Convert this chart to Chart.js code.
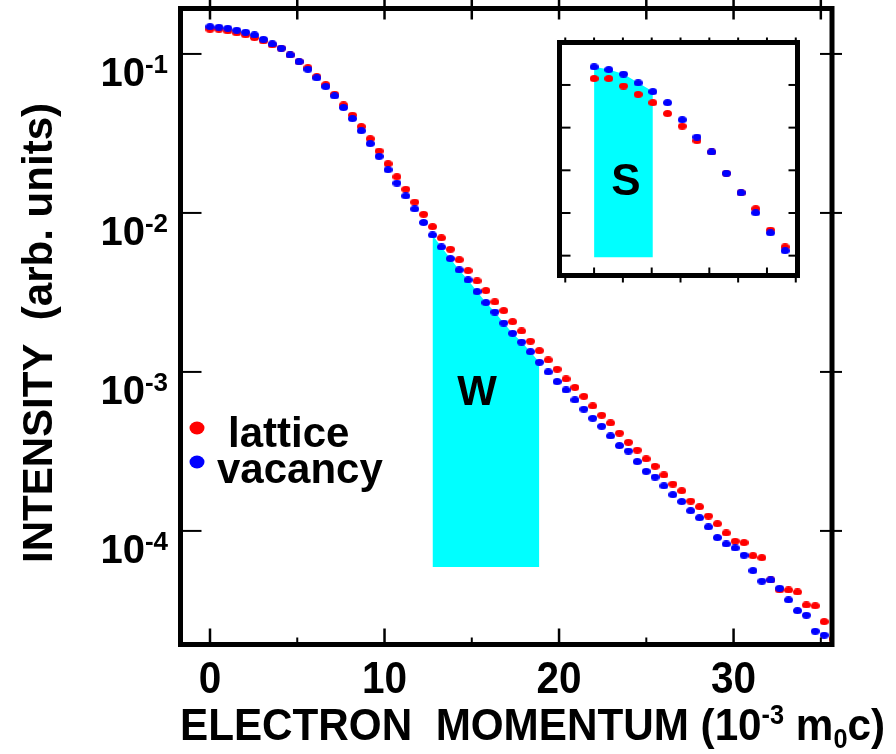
<!DOCTYPE html>
<html>
<head>
<meta charset="utf-8">
<script src="https://cdn.jsdelivr.net/npm/chart.js@4.4.1/dist/chart.umd.min.js"></script>
<style>
html, body { margin: 0; padding: 0; background: #fff; }
#wrap { position: relative; width: 896px; height: 754px; }
#wrap canvas { position: absolute; left: 0; top: 0; }
</style>
</head>
<body>
<div id="wrap">
<canvas id="mainChart" width="896" height="754"></canvas>
<canvas id="insetChart" width="896" height="754"></canvas>
</div>
<script>
// electron momentum (10^-3 m0c), one value per channel
const momentum = [0, 0.51, 1.02, 1.53, 2.04, 2.55, 3.06, 3.57, 4.08, 4.59,
    5.10, 5.61, 6.12, 6.63, 7.14, 7.65, 8.16, 8.67, 9.18, 9.69,
    10.20, 10.71, 11.22, 11.73, 12.24, 12.75, 13.26, 13.77, 14.28, 14.79,
    15.30, 15.81, 16.32, 16.83, 17.34, 17.85, 18.36, 18.87, 19.38, 19.89,
    20.40, 20.91, 21.42, 21.93, 22.44, 22.95, 23.46, 23.97, 24.48, 24.99,
    25.50, 26.01, 26.52, 27.03, 27.54, 28.05, 28.56, 29.07, 29.58, 30.09,
    30.60, 31.11, 31.62, 32.13, 32.64, 33.15, 33.66, 34.17, 34.68, 35.19,
    35.70];

const lattice = [0.143, 0.143, 0.1395, 0.1356, 0.1317, 0.1266, 0.1207, 0.1139, 0.1086, 0.0986,
    0.0895, 0.0820, 0.0720, 0.0641, 0.0558, 0.0478, 0.0412, 0.0349, 0.0293, 0.0245,
    0.0204, 0.0169, 0.0141, 0.0117, 0.00981, 0.00820, 0.00697, 0.00591, 0.00508, 0.00434,
    0.00374, 0.00325, 0.00276, 0.00243, 0.00207, 0.00181, 0.00156, 0.00136, 0.00119, 0.00104,
    0.000904, 0.000799, 0.000702, 0.000611, 0.000534, 0.000478, 0.000412, 0.000361, 0.000322, 0.000284,
    0.000255, 0.000225, 0.000197, 0.000179, 0.000154, 0.000142, 0.000124, 0.000111, 9.71e-5, 8.61e-5,
    8.44e-5, 6.99e-5, 6.79e-5, 4.92e-5, 4.25e-5, 4.25e-5, 4.13e-5, 3.42e-5, 3.38e-5, 2.69e-5,
    2.09e-5];

const vacancy = [0.1485, 0.1472, 0.1451, 0.1410, 0.1369, 0.1317, 0.1237, 0.1156, 0.1086, 0.0986,
    0.0895, 0.0801, 0.0707, 0.0623, 0.0544, 0.0460, 0.0392, 0.0329, 0.0273, 0.0227,
    0.0187, 0.0154, 0.0128, 0.0106, 0.00871, 0.00727, 0.00611, 0.00516, 0.00438, 0.00379,
    0.00320, 0.00273, 0.00238, 0.00203, 0.00175, 0.00154, 0.00134, 0.00115, 0.00100, 0.000869,
    0.000770, 0.000667, 0.000583, 0.000511, 0.000455, 0.000396, 0.000344, 0.000318, 0.000273, 0.000237,
    0.000218, 0.000192, 0.000169, 0.000153, 0.000134, 0.000121, 0.000106, 9.08e-5, 8.28e-5, 7.81e-5,
    7.03e-5, 5.63e-5, 4.83e-5, 4.92e-5, 4.36e-5, 3.68e-5, 3.15e-5, 2.95e-5, 2.34e-5, 2.21e-5];

const seriesLabels = ['lattice', 'vacancy'];
const seriesColors = ['#ff0000', '#0000ff'];

const xMajorTicks = [0, 10, 20, 30];
const xMinorTicks = [5, 15, 25, 35];
const yDecades = [1e-1, 1e-2, 1e-3, 1e-4];
const yExponents = ['-1', '-2', '-3', '-4'];

// W window: channel range on vacancy curve, filled down to wFloor
const wChannels = [25, 37];
const wFloor = 5.94e-5;

// inset (linear scale, low momentum part)
const insetChannels = 14;
const sChannels = [0, 4];
const sFloor = 0.0593;
const insetYTicks = [0.06, 0.08, 0.10, 0.12, 0.14];
const insetXTicks = [-1, 0, 1, 2, 3, 4, 5, 6, 7];

const CYAN = '#00ffff';
const FAMILY = '"Liberation Sans", Arial, Helvetica, sans-serif';
const bold = px => `bold ${px}px ${FAMILY}`;

function pairs(xs, ys, from, to) {
    return ys.slice(from, to + 1).map((v, i) => ({ x: xs[from + i], y: v }));
}

function dotImage(color, w, h) {
    const c = document.createElement('canvas');
    c.width = w; c.height = h;
    const g = c.getContext('2d');
    g.fillStyle = color;
    g.beginPath();
    g.ellipse(w / 2, h / 2, w / 2, h / 2, 0, 0, Math.PI * 2);
    g.fill();
    return c;
}

function seg(ctx, x1, y1, x2, y2) {
    ctx.beginPath();
    ctx.moveTo(x1, y1);
    ctx.lineTo(x2, y2);
    ctx.stroke();
}

// parts: [{t, size, dy}] drawn left to right, squeezed to width if given
function richText(ctx, parts, x, y, width) {
    let total = 0;
    parts.forEach(p => { ctx.font = bold(p.size); p.w = ctx.measureText(p.t).width; total += p.w; });
    const sx = width ? width / total : 1;
    ctx.save();
    ctx.translate(x, y);
    ctx.scale(sx, 1);
    let cx = 0;
    parts.forEach(p => {
        ctx.font = bold(p.size);
        ctx.fillText(p.t, cx, p.dy || 0);
        cx += p.w;
    });
    ctx.restore();
}

const mainDecor = {
    id: 'mainDecor',
    afterDraw(chart) {
        const { ctx, chartArea: a, scales: { x, y } } = chart;
        ctx.save();
        ctx.strokeStyle = '#000';
        ctx.fillStyle = '#000';
        ctx.lineCap = 'butt';

        ctx.lineWidth = 2;
        yDecades.forEach(v => {
            const py = y.getPixelForValue(v);
            seg(ctx, a.left, py, a.left + 21, py);
            seg(ctx, a.right - 12, py, a.right + 10, py);
        });
        ctx.lineWidth = 2.5;
        xMajorTicks.concat(xMinorTicks).forEach(v => {
            const px = x.getPixelForValue(v);
            seg(ctx, px, 0, px, a.top + 11);
        });
        xMajorTicks.forEach(v => {
            const px = x.getPixelForValue(v);
            seg(ctx, px, a.bottom - 16, px, a.bottom);
        });
        ctx.lineWidth = 2;
        xMinorTicks.forEach(v => {
            const px = x.getPixelForValue(v);
            seg(ctx, px, a.bottom - 7, px, a.bottom + 2);
        });

        ctx.lineWidth = 5;
        ctx.strokeRect(a.left, a.top, a.right - a.left, a.bottom - a.top);

        // y tick labels 10^n
        ctx.textBaseline = 'alphabetic';
        yDecades.forEach((v, i) => {
            const py = y.getPixelForValue(v);
            ctx.font = bold(26);
            const ew = ctx.measureText(yExponents[i]).width;
            ctx.font = bold(40);
            const bw = ctx.measureText('10').width;
            const right = 168;
            ctx.textAlign = 'left';
            ctx.fillText('10', right - ew - bw, py + 32);
            ctx.font = bold(26);
            ctx.fillText(yExponents[i], right - ew, py + 19);
        });

        // x tick labels, slightly condensed
        ctx.font = bold(45);
        ctx.textAlign = 'center';
        xMajorTicks.forEach(v => {
            ctx.save();
            ctx.translate(x.getPixelForValue(v), 693);
            ctx.scale(0.9, 1);
            ctx.fillText(String(v), 0, 0);
            ctx.restore();
        });

        // x title
        ctx.textAlign = 'left';
        richText(ctx, [
            { t: 'ELECTRON  MOMENTUM (10', size: 45 },
            { t: '-3', size: 27, dy: -16 },
            { t: ' m', size: 45 },
            { t: '0', size: 27, dy: 8 },
            { t: 'c)', size: 45 }
        ], 180, 740, 705);

        // y title
        ctx.save();
        ctx.translate(52, 333);
        ctx.rotate(-Math.PI / 2);
        ctx.font = bold(42);
        const tw = ctx.measureText('INTENSITY  (arb. units)').width;
        ctx.scale(460 / tw, 1);
        ctx.textAlign = 'center';
        ctx.fillText('INTENSITY  (arb. units)', 0, 0);
        ctx.restore();

        // legend
        const legendRows = [{ cy: 428, tx: 228, ty: 447 }, { cy: 462, tx: 217, ty: 483 }];
        seriesLabels.forEach((lab, i) => {
            const r = legendRows[i];
            ctx.fillStyle = seriesColors[i];
            ctx.beginPath();
            ctx.ellipse(197, r.cy, 7.5, 6.5, 0, 0, Math.PI * 2);
            ctx.fill();
            ctx.fillStyle = '#000';
            ctx.font = bold(42);
            ctx.textAlign = 'left';
            ctx.fillText(lab, r.tx, r.ty);
        });

        // window label
        ctx.font = bold(42);
        ctx.textAlign = 'center';
        ctx.fillText('W', 477, 405);
        ctx.restore();
    }
};

const insetDecor = {
    id: 'insetDecor',
    afterDraw(chart) {
        const { ctx, chartArea: a, scales: { x, y } } = chart;
        ctx.save();
        ctx.strokeStyle = '#000';
        ctx.lineWidth = 2;
        insetYTicks.forEach(v => {
            const py = y.getPixelForValue(v);
            seg(ctx, a.left, py, a.left + 11, py);
            seg(ctx, a.right - 9, py, a.right, py);
        });
        insetXTicks.forEach(v => {
            const px = x.getPixelForValue(v);
            seg(ctx, px, a.top - 5, px, a.top);
            if (v % 2 === 0) seg(ctx, px, a.bottom - 8, px, a.bottom);
            else seg(ctx, px, a.bottom, px, a.bottom + 7);
        });
        ctx.lineWidth = 5;
        ctx.strokeRect(a.left, a.top, a.right - a.left, a.bottom - a.top);

        ctx.fillStyle = '#000';
        ctx.font = bold(44);
        ctx.textAlign = 'center';
        ctx.fillText('S', 626, 195);
        ctx.restore();
    }
};

const dotStyles = seriesColors.map(c => dotImage(c, 9, 7));

new Chart(document.getElementById('mainChart').getContext('2d'), {
    type: 'line',
    data: {
        datasets: [
            {
                label: seriesLabels[0],
                data: pairs(momentum, lattice, 0, lattice.length - 1),
                showLine: false, pointStyle: dotStyles[0], pointRadius: 4,
                backgroundColor: seriesColors[0], order: 2
            },
            {
                label: seriesLabels[1],
                data: pairs(momentum, vacancy, 0, vacancy.length - 1),
                showLine: false, pointStyle: dotStyles[1], pointRadius: 4,
                backgroundColor: seriesColors[1], order: 1
            },
            {
                label: 'W',
                data: pairs(momentum, vacancy, wChannels[0], wChannels[1]),
                borderColor: 'rgba(0,0,0,0)', borderWidth: 0, pointRadius: 0,
                backgroundColor: CYAN, fill: { value: wFloor }, tension: 0, order: 3
            }
        ]
    },
    options: {
        responsive: false,
        animation: false,
        events: [],
        layout: { padding: { left: 180.5, top: 8.5, right: 64, bottom: 109.5 } },
        scales: {
            x: { type: 'linear', min: -1.69, max: 35.64, bounds: 'data', display: false },
            y: { type: 'logarithmic', min: 1.93e-5, max: 0.1931, bounds: 'data', display: false }
        },
        plugins: { legend: { display: false }, tooltip: { enabled: false } }
    },
    plugins: [mainDecor]
});

new Chart(document.getElementById('insetChart').getContext('2d'), {
    type: 'line',
    data: {
        datasets: [
            {
                label: seriesLabels[0],
                data: pairs(momentum, lattice, 0, insetChannels - 1),
                showLine: false, pointStyle: dotStyles[0], pointRadius: 4,
                backgroundColor: seriesColors[0], order: 2
            },
            {
                label: seriesLabels[1],
                data: pairs(momentum, vacancy, 0, insetChannels - 1),
                showLine: false, pointStyle: dotStyles[1], pointRadius: 4,
                backgroundColor: seriesColors[1], order: 1
            },
            {
                label: 'S',
                data: pairs(momentum, vacancy, sChannels[0], sChannels[1]),
                borderColor: 'rgba(0,0,0,0)', borderWidth: 0, pointRadius: 0,
                backgroundColor: CYAN, fill: { value: sFloor }, tension: 0, order: 3
            }
        ]
    },
    options: {
        responsive: false,
        animation: false,
        events: [],
        layout: { padding: { left: 559.5, top: 42.5, right: 896 - 797.5, bottom: 754 - 275.5 } },
        scales: {
            x: { type: 'linear', min: -1.20, max: 7.06, bounds: 'data', display: false },
            y: { type: 'linear', min: 0.0507, max: 0.1599, bounds: 'data', display: false }
        },
        plugins: { legend: { display: false }, tooltip: { enabled: false } }
    },
    plugins: [insetDecor]
});
</script>
</body>
</html>
